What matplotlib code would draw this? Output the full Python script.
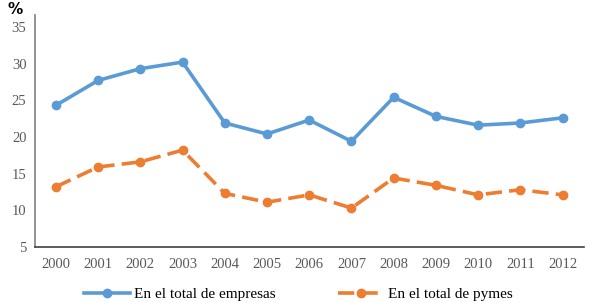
import matplotlib.pyplot as plt

years = ['2000', '2001', '2002', '2003', '2004', '2005', '2006',
         '2007', '2008', '2009', '2010', '2011', '2012']
empresas = [24.3, 27.7, 29.3, 30.2, 21.9, 20.4, 22.3, 19.4, 25.4, 22.8, 21.6, 21.9, 22.6]
pymes = [13.2, 15.9, 16.6, 18.2, 12.3, 11.1, 12.1, 10.3, 14.4, 13.4, 12.1, 12.8, 12.1]

plt.rcParams['font.family'] = ['Liberation Serif', 'DejaVu Serif']

fig = plt.figure(figsize=(5.89, 3.03), dpi=100)
ax = fig.add_axes([0.059, 0.185, 0.932, 0.765])

x = list(range(len(years)))
ax.plot(x, empresas, color='#5b9bd5', lw=2.6, marker='o', ms=6,
        label='En el total de empresas')
ax.plot(x, pymes, color='#ed7d31', lw=2.6, marker='o', ms=6,
        dashes=(4.5, 2), label='En el total de pymes')

ax.set_xlim(-0.5, 12.5)
ax.set_ylim(5, 36.6)
ax.set_yticks([5, 10, 15, 20, 25, 30, 35])
ax.set_xticks(x)
ax.set_xticklabels(years)
ax.tick_params(length=0, labelsize=10.5, colors='#595959', pad=8)
ax.tick_params(axis='y', pad=6)

for s in ['top', 'right']:
    ax.spines[s].set_visible(False)
ax.spines['left'].set_color('#7f7f7f')
ax.spines['bottom'].set_color('#404040')
ax.spines['left'].set_linewidth(1.2)
ax.spines['bottom'].set_linewidth(1.2)

fig.text(0.012, 0.955, '%', fontsize=11, fontweight='bold', family='DejaVu Sans')

fig.legend(loc='lower center', bbox_to_anchor=(0.507, -0.04), ncol=2,
           frameon=False, fontsize=11, handlelength=2.95, columnspacing=4.1,
           handletextpad=0.3)

fig.savefig('out.png', dpi=100)
